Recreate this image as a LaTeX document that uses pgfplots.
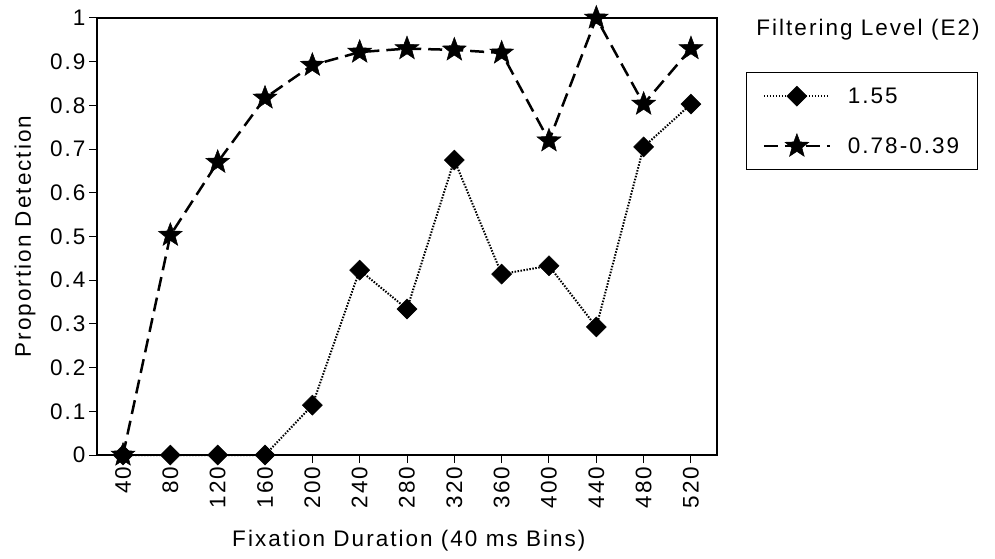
\documentclass[border=0pt]{standalone}
\usepackage{pgfplots}
\pgfplotsset{compat=1.18}
\usepackage{fontspec}
\setmainfont{Liberation Sans}[LetterSpace=9]
\newcommand{\fs}{\fontsize{22.5}{26}\selectfont}
\pgfdeclareplotmark{fstar}{%
  \pgfpathmoveto{\pgfpointpolar{90}{\pgfplotmarksize}}%
  \pgfpathlineto{\pgfpointpolar{126}{0.42\pgfplotmarksize}}%
  \pgfpathlineto{\pgfpointpolar{162}{\pgfplotmarksize}}%
  \pgfpathlineto{\pgfpointpolar{198}{0.42\pgfplotmarksize}}%
  \pgfpathlineto{\pgfpointpolar{234}{\pgfplotmarksize}}%
  \pgfpathlineto{\pgfpointpolar{270}{0.42\pgfplotmarksize}}%
  \pgfpathlineto{\pgfpointpolar{306}{\pgfplotmarksize}}%
  \pgfpathlineto{\pgfpointpolar{342}{0.42\pgfplotmarksize}}%
  \pgfpathlineto{\pgfpointpolar{18}{\pgfplotmarksize}}%
  \pgfpathlineto{\pgfpointpolar{54}{0.42\pgfplotmarksize}}%
  \pgfpathclose\pgfusepathqfillstroke}
\pgfdeclareplotmark{fdiam}{%
  \pgfpathmoveto{\pgfqpoint{0pt}{\pgfplotmarksize}}%
  \pgfpathlineto{\pgfqpoint{\pgfplotmarksize}{0pt}}%
  \pgfpathlineto{\pgfqpoint{0pt}{-\pgfplotmarksize}}%
  \pgfpathlineto{\pgfqpoint{-\pgfplotmarksize}{0pt}}%
  \pgfpathclose\pgfusepathqfillstroke}
\begin{document}
\begin{tikzpicture}
\useasboundingbox (0,0) rectangle (995pt,558pt);
\begin{axis}[
  at={(97pt,103pt)}, anchor=south west,
  scale only axis, width=620pt, height=437pt,
  xmin=-0.55, xmax=12.55, ymin=0, ymax=1,
  xtick={0,...,12},
  xticklabels={40,80,120,160,200,240,280,320,360,400,440,480,520},
  ytick={0,0.1,...,1.01},
  yticklabels={0,0.1,0.2,0.3,0.4,0.5,0.6,0.7,0.8,0.9,1},
  /pgf/number format/assume math mode=true,
  tick align=outside, xtick pos=lower, ytick pos=left,
  major tick length=8pt,
  every tick/.style={black, line width=1pt},
  axis line style={line width=1.5pt},
  tick label style={font=\fs},
  xticklabel style={rotate=90, anchor=east},
  label style={font=\fs},
  xlabel={Fixation Duration (40 ms Bins)},
  ylabel={Proportion Detection},
  xlabel style={at={(axis description cs:0.503,-0.197)}, anchor=center},
  ylabel style={at={(axis description cs:-0.116,0.5)}, anchor=center},
  clip=false,
  legend style={at={(1.047,0.876)}, anchor=north west, draw=black, line width=1pt,
    font=\fs, inner xsep=16pt, inner ysep=13pt, row sep=27pt},
  legend cell align=left,
  legend image code/.code={%
    \path[draw=none,fill=none] (0pt,0pt) -- (82pt,0pt);
    \draw[mark repeat=2,mark phase=2,#1] plot coordinates {(0pt,0pt) (33pt,0pt) (66pt,0pt)};},
]
\addplot[black, line width=2pt, dash pattern=on 1.5pt off 1.5pt,
  mark=fdiam, mark size=10pt, mark options={solid, line width=0.5pt}]
  coordinates {(0,0) (1,0) (2,0) (3,0) (4,0.114) (5,0.423) (6,0.334) (7,0.675)
  (8,0.414) (9,0.433) (10,0.293) (11,0.705) (12,0.803)};
\addlegendentry{1.55}
\addplot[black, line width=2.5pt, dash pattern=on 14pt off 7pt,
  mark=fstar, mark size=12.5pt, mark options={solid, line width=0.5pt}]
  coordinates {(0,0) (1,0.503) (2,0.67) (3,0.817) (4,0.892) (5,0.922) (6,0.93)
  (7,0.927) (8,0.92) (9,0.719) (10,1.0) (11,0.803) (12,0.93)};
\addlegendentry{0.78-0.39}
\end{axis}
\node[font=\fs] at (868pt,528pt) {Filtering Level (E2)};
\end{tikzpicture}
\end{document}
